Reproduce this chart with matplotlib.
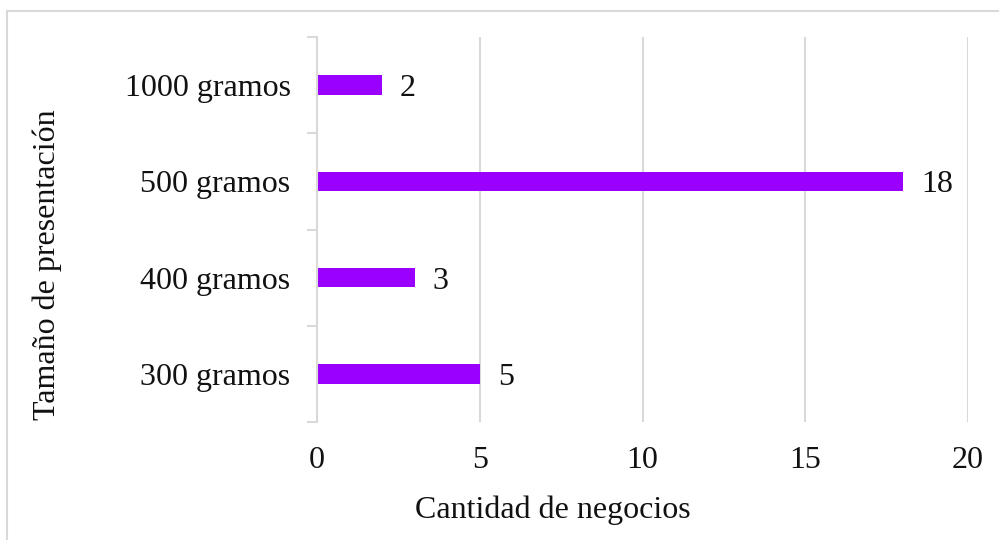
import matplotlib.pyplot as plt
from matplotlib.lines import Line2D
from matplotlib.ticker import FixedLocator

# datos
categorias = ['300 gramos', '400 gramos', '500 gramos', '1000 gramos']
negocios = [5, 3, 18, 2]
xticks = [0, 5, 10, 15, 20]

plt.rcParams['font.family'] = ['Liberation Serif', 'DejaVu Serif']
fs = 23

fig = plt.figure(figsize=(9.99, 5.40), dpi=100)
ax = fig.add_axes([317 / 999, 1 - 422 / 540, (968 - 317) / 999, (422 - 37) / 540])

pos = list(range(len(categorias)))
ax.barh(pos, negocios, height=0.2, color='#9900FF', zorder=3)
for p, v in zip(pos, negocios):
    ax.text(v + 0.55, p, str(v), va='center_baseline', ha='left', fontsize=fs, color='#111111')

ax.set_xlim(0, 20)
ax.set_ylim(-0.5, len(categorias) - 0.5)
ax.set_xticks(xticks)
ax.set_yticks(pos)
ax.set_yticklabels(categorias)
ax.yaxis.set_minor_locator(FixedLocator([i - 0.5 for i in range(len(categorias) + 1)]))

ax.grid(axis='x', color='#D9D9D9', linewidth=1.5, zorder=0)
for s in ['top', 'right', 'bottom']:
    ax.spines[s].set_visible(False)
ax.spines['left'].set_color('#D9D9D9')
ax.spines['left'].set_linewidth(1.5)
ax.spines['left'].set_zorder(4)

ax.tick_params(axis='y', which='major', length=0, pad=19, labelsize=fs, labelcolor='#111111')
ax.tick_params(axis='y', which='minor', length=7, width=1.5, color='#D9D9D9')
ax.tick_params(axis='x', length=0, pad=17, labelsize=fs, labelcolor='#111111')

ax.set_xlabel('Cantidad de negocios', fontsize=fs, color='#111111', va='center')
ax.set_ylabel('Tamaño de presentación', fontsize=fs, color='#111111', va='center')
ax.xaxis.set_label_coords(0.3625, -0.228)
ax.yaxis.set_label_coords(-0.415, 0.408)

# marco exterior
fig.add_artist(Line2D([7 / 999, 7 / 999], [0, 1 - 11 / 540], transform=fig.transFigure,
                      color='#D9D9D9', linewidth=1.5))
fig.add_artist(Line2D([7 / 999, 1], [1 - 11 / 540, 1 - 11 / 540], transform=fig.transFigure,
                      color='#D9D9D9', linewidth=1.5))

fig.savefig('out.png', dpi=100, facecolor='white')
